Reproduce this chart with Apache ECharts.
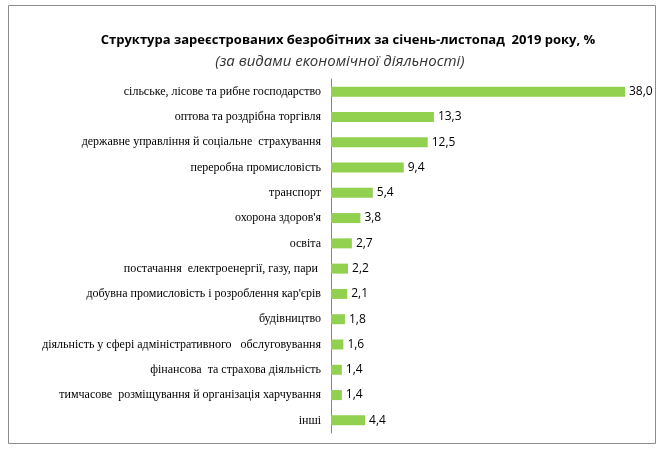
<!DOCTYPE html>
<html>
<head>
<meta charset="utf-8">
<script src="https://cdn.jsdelivr.net/npm/echarts@6/dist/echarts.min.js"></script>
<style>
  html, body { margin: 0; padding: 0; background: #fff; }
  #chart { width: 663px; height: 451px; }
</style>
</head>
<body>
<div id="chart"></div>
<script>
  // categories, top to bottom
  var categories = [
    'сільське, лісове та рибне господарство',
    'оптова та роздрібна торгівля',
    'державне управління й соціальне  страхування',
    'переробна промисловість',
    'транспорт',
    'охорона здоров\'я',
    'освіта',
    'постачання  електроенергії, газу, пари ',
    'добувна промисловість і розроблення кар\'єрів',
    'будівництво',
    'діяльність у сфері адміністративного   обслуговування',
    'фінансова  та страхова діяльність',
    'тимчасове  розміщування й організація харчування',
    'інші'
  ];
  var shares = [38.0, 13.3, 12.5, 9.4, 5.4, 3.8, 2.7, 2.2, 2.1, 1.8, 1.6, 1.4, 1.4, 4.4];

  var chart = echarts.init(document.getElementById('chart'));

  chart.setOption({
    animation: false,
    title: [
      {
        text: 'Структура зареєстрованих безробітних за січень-листопад  2019 року, %',
        left: 343, top: 29, textAlign: 'center',
        textStyle: { fontFamily: 'Open Sans', fontSize: 13, fontWeight: 'bold', color: '#000' }
      },
      {
        text: '(за видами економічної діяльності)',
        left: 335, top: 49, textAlign: 'center',
        textStyle: { fontFamily: 'Open Sans', fontSize: 15, fontStyle: 'italic', fontWeight: 'normal', color: '#333' }
      }
    ],
    graphic: [{
      type: 'rect',
      shape: { x: 8.5, y: 5.5, width: 647, height: 438 },
      style: { fill: 'none', stroke: '#8c8c8c', lineWidth: 1 }
    }],
    grid: { left: 331, right: 38, top: 79, bottom: 18 },
    xAxis: {
      type: 'value', min: 0, max: 38,
      show: false
    },
    yAxis: {
      type: 'category',
      inverse: true,
      data: categories,
      axisLine: { lineStyle: { color: '#868686', width: 1 } },
      axisTick: { length: 4, lineStyle: { color: '#868686' } },
      axisLabel: {
        margin: 10,
        fontFamily: 'Liberation Serif', fontSize: 12, color: '#000'
      }
    },
    series: [{
      type: 'bar',
      data: shares,
      barWidth: 10,
      itemStyle: { color: '#92D050' },
      label: {
        show: true,
        position: 'right',
        distance: 4,
        fontFamily: 'Open Sans', fontSize: 12, color: '#000',
        formatter: function (p) { return p.value.toFixed(1).replace('.', ','); }
      }
    }]
  });
</script>
</body>
</html>
